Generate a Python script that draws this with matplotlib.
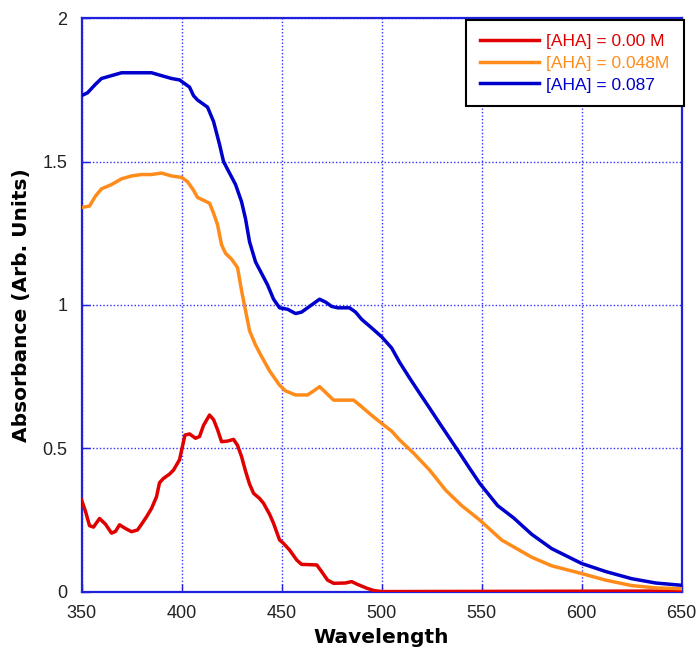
import numpy as np
import matplotlib
matplotlib.use("Agg")
import matplotlib.pyplot as plt

# Wavelengths and absorbance
wl_blue = [350, 353, 357, 360, 365, 370, 380, 385, 390, 395, 399, 402, 404, 406, 408,
           413, 416, 419, 421, 424, 427, 430, 432, 434, 437, 440, 443, 446, 449, 453,
           457, 460, 463, 466, 469, 472, 475, 478, 484, 487, 490, 495, 500, 505, 509,
           514, 519, 524, 529, 534, 539, 544, 549, 558, 566, 575, 585, 600, 612, 625,
           637, 650]
abs_blue = [1.73, 1.74, 1.77, 1.79, 1.80, 1.81, 1.81, 1.81, 1.80, 1.79, 1.785, 1.77, 1.76, 1.73, 1.715,
            1.69, 1.64, 1.56, 1.50, 1.46, 1.42, 1.36, 1.30, 1.22, 1.15, 1.11, 1.07, 1.02, 0.99, 0.985,
            0.97, 0.975, 0.99, 1.005, 1.02, 1.01, 0.995, 0.99, 0.99, 0.975, 0.95, 0.92, 0.889, 0.85, 0.80,
            0.745, 0.692, 0.64, 0.587, 0.535, 0.483, 0.43, 0.378, 0.30, 0.257, 0.20, 0.15, 0.098, 0.07, 0.045,
            0.03, 0.022]

wl_orange = [350, 354, 357, 360, 365, 370, 375, 380, 385, 390, 395, 400, 403, 406, 408,
             411, 414, 416, 418, 420, 422, 425, 428, 430, 432, 434, 437, 440, 444, 449,
             452, 457, 463, 466, 469, 472, 476, 486, 490, 495, 500, 505, 509, 516, 524,
             532, 540, 549, 560, 575, 585, 600, 612, 625, 637, 650]
abs_orange = [1.34, 1.345, 1.38, 1.405, 1.42, 1.44, 1.45, 1.455, 1.455, 1.46, 1.45, 1.445, 1.43, 1.40, 1.375,
              1.365, 1.355, 1.32, 1.28, 1.21, 1.18, 1.16, 1.13, 1.05, 0.98, 0.91, 0.86, 0.82, 0.77, 0.72,
              0.70, 0.686, 0.686, 0.70, 0.715, 0.695, 0.668, 0.668, 0.645, 0.615, 0.587, 0.56, 0.529, 0.483, 0.424,
              0.354, 0.30, 0.25, 0.18, 0.12, 0.09, 0.063, 0.04, 0.021, 0.013, 0.01]

wl_red = [350, 352, 354, 356, 359, 362, 365, 367, 369, 372, 375, 378, 380, 382.5, 385,
          387.5, 389, 391, 394, 396, 399, 401.7, 404, 407, 409, 411, 414, 416, 418, 420,
          423, 426, 428, 430, 432, 434, 436, 439, 441, 444, 446, 449, 451, 454, 457.6,
          460, 467.6, 470, 473, 476, 482, 485, 488, 492.5, 496, 500, 650]
abs_red = [0.32, 0.28, 0.23, 0.225, 0.255, 0.235, 0.204, 0.21, 0.233, 0.22, 0.209, 0.215, 0.235, 0.261, 0.29,
           0.331, 0.38, 0.395, 0.41, 0.424, 0.46, 0.546, 0.55, 0.535, 0.541, 0.58, 0.616, 0.60, 0.565, 0.523,
           0.525, 0.531, 0.51, 0.471, 0.42, 0.375, 0.343, 0.325, 0.308, 0.27, 0.238, 0.18, 0.168, 0.145, 0.11,
           0.095, 0.093, 0.07, 0.04, 0.029, 0.03, 0.035, 0.025, 0.012, 0.004, 0.0, 0.002]

labels = ["[AHA] = 0.00 M", "[AHA] = 0.048M", "[AHA] = 0.087"]
colors = ["#e00000", "#ff8c1a", "#0000cc"]

fig = plt.figure(figsize=(7, 6.54), dpi=100)
ax = fig.add_axes([81.5 / 700, 1 - 591.6 / 654, 600.2 / 700, 573.3 / 654])

ax.plot(wl_red, abs_red, color=colors[0], lw=2.5, label=labels[0], zorder=3)
ax.plot(wl_orange, abs_orange, color=colors[1], lw=2.5, label=labels[1], zorder=3)
ax.plot(wl_blue, abs_blue, color=colors[2], lw=2.5, label=labels[2], zorder=3)

ax.set_xlim(350, 650)
ax.set_ylim(0, 2)
ax.set_xticks(np.arange(350, 651, 50))
ax.set_yticks([0, 0.5, 1, 1.5, 2])
ax.set_yticklabels(["0", "0.5", "1", "1.5", "2"])

ax.grid(True, color="#3030ff", linestyle=(0, (1, 1.5)), linewidth=1.0, zorder=1)
for s in ax.spines.values():
    s.set_color("#2020dd")
    s.set_linewidth(1.6)
ax.tick_params(direction="in", length=6, width=1, color="#2020dd",
               labelsize=13, labelcolor="#222222", pad=10)
for t in ax.get_xticklabels() + ax.get_yticklabels():
    t.set_family("Liberation Sans")

ax.set_xlabel("Wavelength", fontsize=14.5, fontweight="bold", family="DejaVu Sans", labelpad=4)
ax.set_ylabel("Absorbance (Arb. Units)", fontsize=14.5, fontweight="bold", family="DejaVu Sans", labelpad=8)

leg = ax.legend(loc="upper right", bbox_to_anchor=(1.003, 0.997), borderaxespad=0,
                fancybox=False, framealpha=1, edgecolor="black",
                prop={"family": "Liberation Sans", "size": 12.5},
                handlelength=3.4, handletextpad=0.45, labelspacing=0.38, borderpad=0.8)
leg.get_frame().set_linewidth(1.5)
for txt, c in zip(leg.get_texts(), colors):
    txt.set_color(c)

plt.savefig("out.png", dpi=100)
